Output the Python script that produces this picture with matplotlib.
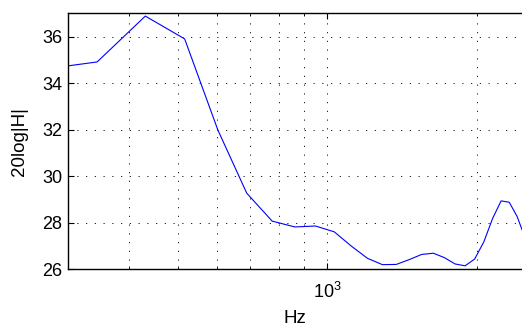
import matplotlib
matplotlib.use('Agg')
import matplotlib.pyplot as plt
from matplotlib.ticker import FixedLocator, NullFormatter

plt.rcParams['font.family'] = ['Liberation Sans', 'DejaVu Sans']
plt.rcParams['mathtext.fontset'] = 'custom'
plt.rcParams['mathtext.rm'] = 'Liberation Sans'

# frequency bins (Hz) and magnitude (dB)
freq = [258.4, 344.5, 430.7, 516.8, 602.9, 689.1, 775.2, 861.3, 947.5,
        1033.6, 1119.7, 1205.9, 1292.0, 1378.1, 1464.3, 1550.4, 1636.5,
        1722.7, 1808.8, 1894.9, 1981.1, 2067.2, 2153.3, 2239.5, 2325.6,
        2411.7, 2497.9]
mag = [34.55, 34.91, 36.88, 35.90, 31.98, 29.27, 28.07, 27.82, 27.86,
       27.61, 26.99, 26.47, 26.20, 26.21, 26.42, 26.64, 26.69,
       26.50, 26.23, 26.15, 26.44, 27.18, 28.19, 28.94, 28.88,
       28.27, 27.40]

yticks = [26, 28, 30, 32, 34, 36]
xminor = [400, 500, 600, 700, 800, 900, 2000]

fig = plt.figure(figsize=(5.22, 3.27), dpi=100)
ax = fig.add_axes([68/522, 1 - 269.3/327, 1 - 68/522, (269.3 - 13.3)/327])

ax.semilogx(freq, mag, color=(0, 0, 1), lw=0.8)
ax.set_xlim(301, 2467)
ax.set_ylim(26, 37)

ax.set_yticks(yticks)
ax.xaxis.set_major_locator(FixedLocator([1000]))
ax.xaxis.set_minor_locator(FixedLocator(xminor))
ax.xaxis.set_minor_formatter(NullFormatter())

# matlab-ish dotted grid
for which in ['major', 'minor']:
    ax.grid(True, which=which, axis='x', color='k', lw=0.6, linestyle=(0, (1.5, 9)))
ax.grid(True, which='major', axis='y', color='k', lw=0.6, linestyle=(0, (1.5, 9)))

ax.tick_params(which='both', direction='in', top=True, right=False, labelsize=13)
ax.tick_params(which='major', length=4, width=0.8)
ax.tick_params(which='minor', length=2.5, width=0.6)
ax.tick_params(axis='x', pad=9)
ax.tick_params(axis='y', pad=4)

for s in ['left', 'bottom', 'top']:
    ax.spines[s].set_linewidth(1.0)
ax.spines['right'].set_visible(False)

ax.set_xlabel('Hz', fontsize=13.5, labelpad=6)
ax.set_ylabel('20log|H|', fontsize=13.5, labelpad=10)

fig.savefig('out.png', dpi=100)
